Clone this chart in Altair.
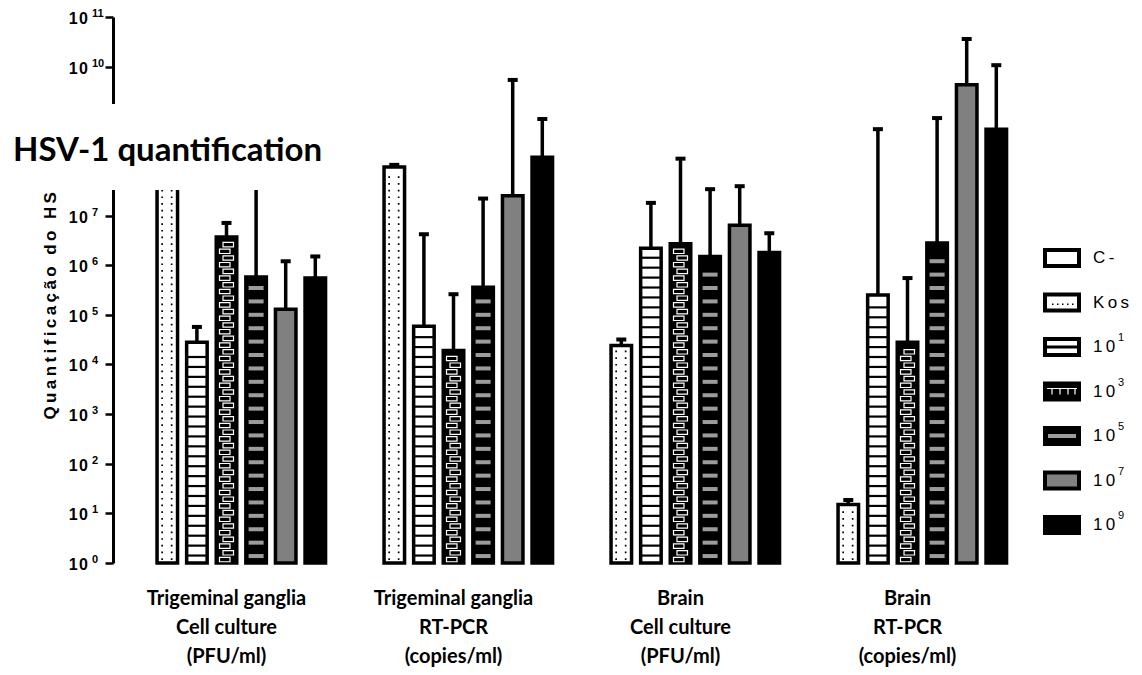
import math
import altair as alt
import pandas as pd

# ---------------- data ----------------
groups = [
    "Trigeminal ganglia|Cell culture|(PFU/ml)",
    "Trigeminal ganglia|RT-PCR|(copies/ml)",
    "Brain|Cell culture|(PFU/ml)",
    "Brain|RT-PCR|(copies/ml)",
]
series = ["C -", "Kos", "10^1", "10^3", "10^5", "10^7", "10^9"]
legend_base = ["C\u2009-", "K\u2009o\u2009s", "1\u20090", "1\u20090", "1\u20090", "1\u20090", "1\u20090"]
legend_sup = ["", "", "1", "3", "5", "7", "9"]

# mean values per series, one per group (None = no bar)
mean_cneg = [None, None, None, None]
mean_kos = [1.0e8, 9.5e7, 2.4e4, 15]
mean_1 = [2.8e4, 5.9e4, 2.2e6, 2.5e5]
mean_3 = [3.7e6, 1.9e4, 2.7e6, 2.8e4]
mean_5 = [5.8e5, 3.6e5, 1.5e6, 2.8e6]
mean_7 = [1.3e5, 2.5e7, 6.4e6, 4.3e9]
mean_9 = [5.5e5, 1.5e8, 1.8e6, 5.5e8]

# upper end of error bars
upper_cneg = [None, None, None, None]
upper_kos = [3.0e8, 1.05e8, 3.2e4, 18.6]
upper_1 = [5.7e4, 4.2e6, 1.8e7, 5.5e8]
upper_3 = [7.1e6, 2.6e5, 1.4e8, 5.5e5]
upper_5 = [2.0e8, 2.2e7, 3.4e7, 9.2e8]
upper_7 = [1.2e6, 5.4e9, 3.9e7, 3.6e10]
upper_9 = [1.5e6, 8.8e8, 4.4e6, 1.07e10]

y_tick_values = [10 ** i for i in range(12)]
# labels visible in the figure (10^8 and 10^9 sit under the title box)
y_label_values = [1, 10, 100, 1e3, 1e4, 1e5, 1e6, 1e7, 1e10, 1e11]
y_label_exp = ["0", "1", "2", "3", "4", "5", "6", "7", "10", "11"]
y_tick_base = "1\u200a0"
y_title = "\u2009".join(list("Quantificação do HSV-1"))
chart_title = "HSV-1 quantification"

fill_colors = ["white", "white", "white", "black", "black", "#808080", "black"]

# ---------------- tables ----------------
means = [mean_cneg, mean_kos, mean_1, mean_3, mean_5, mean_7, mean_9]
uppers = [upper_cneg, upper_kos, upper_1, upper_3, upper_5, upper_7, upper_9]
rows = []
for s, ms, us in zip(series, means, uppers):
    for g, m, u in zip(groups, ms, us):
        if m is None:
            continue
        rows.append({"group": g, "series": s, "mean": m, "upper": u})
bars = pd.DataFrame(rows)


def pattern(sname, step, start, margin):
    out = []
    sub = bars[bars.series == sname]
    for _, r in sub.iterrows():
        top = math.log10(r["mean"])
        e = start
        k = 0
        while e < top - margin:
            out.append({"group": r["group"], "series": sname, "v": 10 ** e, "k": k})
            e += step
            k += 1
    return pd.DataFrame(out)


kos_dots = pattern("Kos", 0.135, 0.08, 0.09)
s1_lines = pattern("10^1", 0.2, 0.15, 0.12)
s3_bricks = pattern("10^3", 0.135, 0.07, 0.1)
s5_dashes = pattern("10^5", 0.27, 0.14, 0.15)

xlab = pd.DataFrame([
    {"group": g, "line": i, "text": t}
    for g in groups for i, t in enumerate(g.split("|"))
])
ylab = pd.DataFrame({"v": y_label_values, "base": [y_tick_base] * len(y_label_values), "exp": y_label_exp})

W, H = 908, 546
ydom = [1, 1e11]


def yenc(field, axis=None):
    return alt.Y(field, type="quantitative",
                 scale=alt.Scale(type="log", domain=ydom, nice=False),
                 axis=axis)


xscale = alt.Scale(domain=groups, paddingInner=0, paddingOuter=0)
xoscale = alt.Scale(domain=series, paddingInner=0.307, paddingOuter=0.488)
fscale = alt.Scale(domain=series, range=fill_colors)

xenc_plain = alt.X("group:N", scale=xscale, axis=None)
xoenc = alt.XOffset("series:N", scale=xoscale)

yaxis = alt.Axis(
    values=y_tick_values, labels=False,
    title=y_title, titleFont="Liberation Sans", titleFontWeight="bold", titleFontSize=17,
    titleColor="black", titleX=-63, titleY=H / 2 - 3, titleBaseline="middle", titleAlign="center",
    titleAngle=270,
    tickSize=8, tickWidth=2.5, tickColor="black",
    domainColor="black", domainWidth=3, grid=False,
)
xaxis = alt.Axis(
    title=None, labels=False,
    tickSize=8, tickWidth=2.5, tickColor="black", domainColor="black", domainWidth=3, grid=False,
)

bar_layer = alt.Chart(bars).mark_bar(stroke="black", strokeWidth=3.5).encode(
    x=alt.X("group:N", scale=xscale, axis=xaxis),
    xOffset=xoenc,
    y=yenc("mean", yaxis),
    y2=alt.datum(1),
    fill=alt.Fill("series:N", scale=fscale, legend=None),
)

kos_layer = alt.Chart(kos_dots).mark_point(
    shape="M-6,-0.8h1.7v1.7h-1.7z M3.5,-0.8h1.7v1.7h-1.7z", size=4, filled=True,
    color="black", opacity=1, strokeWidth=0,
).encode(x=xenc_plain, xOffset=xoenc, y=yenc("v"))

s1_layer = alt.Chart(s1_lines).mark_point(
    shape="M-9,-1.1H9V1.1H-9Z", size=4, filled=True, color="black", opacity=1, strokeWidth=0,
).encode(x=xenc_plain, xOffset=xoenc, y=yenc("v"))

brick_even = alt.Chart(s3_bricks).transform_filter("datum.k % 2 == 0").mark_point(
    shape="M-7,-2.2H3.5V2.2H-7Z", size=4, filled=False, color="white", opacity=1, strokeWidth=1.2,
).encode(x=xenc_plain, xOffset=xoenc, y=yenc("v"))
brick_odd = alt.Chart(s3_bricks).transform_filter("datum.k % 2 == 1").mark_point(
    shape="M-3.5,-2.2H7V2.2H-3.5Z", size=4, filled=False, color="white", opacity=1, strokeWidth=1.2,
).encode(x=xenc_plain, xOffset=xoenc, y=yenc("v"))

s5_layer = alt.Chart(s5_dashes).mark_point(
    shape="M-7.5,-2H7.5V2H-7.5Z", size=4, filled=True, color="#9c9c9c", opacity=1, strokeWidth=0,
).encode(x=xenc_plain, xOffset=xoenc, y=yenc("v"))

err_rule = alt.Chart(bars).mark_rule(color="black", strokeWidth=3.5).encode(
    x=xenc_plain, xOffset=xoenc, y=yenc("mean"), y2="upper:Q",
)
err_cap = alt.Chart(bars).mark_tick(color="black", size=10, thickness=4, opacity=1).encode(
    x=xenc_plain, xOffset=xoenc, y=yenc("upper"),
)

# y tick labels: "10" with a raised exponent
ylab_base = alt.Chart(ylab).mark_text(
    font="Liberation Sans", fontWeight="bold", fontSize=16, align="right", baseline="middle", color="black", dy=2,
).encode(x=alt.value(-25), y=yenc("v"), text="base:N")
ylab_exp = alt.Chart(ylab).mark_text(
    font="Liberation Sans", fontWeight="bold", fontSize=11, align="left", baseline="middle", color="black", dy=-3,
).encode(x=alt.value(-21), y=yenc("v"), text="exp:N")

# x tick labels (three lines per group)
xlab_layer = alt.Chart(xlab).mark_text(
    font="Lato", fontWeight="bold", fontSize=20, align="center", baseline="middle", color="black",
).encode(
    x=xenc_plain,
    y=alt.Y("line:O", scale=alt.Scale(type="point", domain=[0, 1, 2], range=[582, 640], padding=0), axis=None),
    text="text:N",
)

one = pd.DataFrame({"t": [chart_title]})
white_box = alt.Chart(one).mark_rect(fill="white").encode(
    x=alt.value(-105), x2=alt.value(227), y=alt.value(87), y2=alt.value(173),
)
title_layer = alt.Chart(one).mark_text(
    font="Lato", fontWeight="bold", fontSize=33, align="left", baseline="middle", color="black",
).encode(x=alt.value(-100), y=alt.value(134), text="t:N")

# ---------------- legend ----------------
leg = pd.DataFrame({"series": series, "base": legend_base, "sup": legend_sup})
leg_y = alt.Y("series:N", scale=alt.Scale(type="point", domain=series, range=[241, 508], padding=0), axis=None)
LX = 949

leg_swatch = alt.Chart(leg).mark_point(
    shape="M-17,-8H17V8H-17Z", size=4, filled=True, stroke="black", strokeWidth=4, opacity=1,
).encode(x=alt.value(LX), y=leg_y, fill=alt.Fill("series:N", scale=fscale, legend=None))

leg_kos = alt.Chart(leg).transform_filter("datum.series == 'Kos'").mark_point(
    shape="M-10,1h1.5v1.5h-1.5z M-5,1h1.5v1.5h-1.5z M0,1h1.5v1.5h-1.5z M5,1h1.5v1.5h-1.5z M10,1h1.5v1.5h-1.5z",
    size=4, filled=True, color="black", opacity=1, strokeWidth=0,
).encode(x=alt.value(LX), y=leg_y)
leg_s1 = alt.Chart(leg).transform_filter("datum.series == '10^1'").mark_point(
    shape="M-16,-1.5H16V1.5H-16Z", size=4, filled=True, color="black", opacity=1, strokeWidth=0,
).encode(x=alt.value(LX), y=leg_y)
leg_s3 = alt.Chart(leg).transform_filter("datum.series == '10^3'").mark_point(
    shape="M-15,-3H15 M-10,-3V3 M-2,-3V3 M6,-3V3 M13,-3V3",
    size=4, filled=False, color="white", opacity=1, strokeWidth=1.2,
).encode(x=alt.value(LX), y=leg_y)
leg_s5 = alt.Chart(leg).transform_filter("datum.series == '10^5'").mark_point(
    shape="M-14,-2H14V2H-14Z", size=4, filled=True, color="#9c9c9c", opacity=1, strokeWidth=0,
).encode(x=alt.value(LX), y=leg_y)
leg_text = alt.Chart(leg).mark_text(
    font="Liberation Sans", fontSize=17, align="left", baseline="middle", color="black",
).encode(x=alt.value(980), y=leg_y, text="base:N")
leg_sup = alt.Chart(leg).mark_text(
    font="Liberation Sans", fontSize=11, align="left", baseline="middle", color="black", dy=-9,
).encode(x=alt.value(1005), y=leg_y, text="sup:N")

chart = alt.layer(
    bar_layer, kos_layer, s1_layer, brick_even, brick_odd, s5_layer,
    err_rule, err_cap, ylab_base, ylab_exp, xlab_layer, white_box, title_layer,
    leg_swatch, leg_kos, leg_s1, leg_s3, leg_s5, leg_text, leg_sup,
).resolve_scale(y="independent").properties(
    width=W, height=H,
    autosize=alt.AutoSizeParams(type="none"),
    padding={"left": 105, "top": 9, "right": 113, "bottom": 104},
    background="white",
).configure_view(stroke=None)

chart.save("out.html", embed_options={"renderer": "svg", "actions": False})
